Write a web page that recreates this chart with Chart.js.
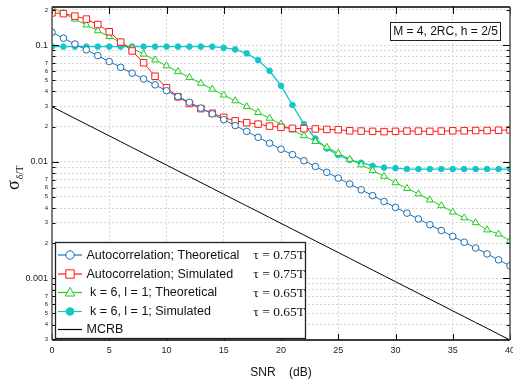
<!DOCTYPE html>
<html lang="en">
<head>
<meta charset="UTF-8">
<title>Timing error vs SNR</title>
<script src="https://cdn.jsdelivr.net/npm/chart.js"></script>
<style>
  html, body { margin: 0; padding: 0; background: #fff; }
</style>
</head>
<body>
<canvas id="snrChart" width="513" height="383"></canvas>
<script>
// SNR axis (dB)
const snr = [0,1,2,3,4,5,6,7,8,9,10,11,12,13,14,15,16,17,18,19,20,
             21,22,23,24,25,26,27,28,29,30,31,32,33,34,35,36,37,38,39,40];

// Autocorrelation, theoretical (tau = 0.75T)
const autoTheo = [0.1285,0.1145,0.1021,0.0910,0.0811,0.0723,0.0644,0.0574,0.0512,0.0456,
                  0.0406,0.0362,0.0323,0.0288,0.0257,0.0229,0.0204,0.0182,0.0162,0.0144,
                  0.0128,0.0115,0.0102,0.0091,0.00811,0.00723,0.00644,0.00574,0.00512,0.00456,
                  0.00406,0.00362,0.00323,0.00288,0.00257,0.00229,0.00204,0.00182,0.00162,0.00144,0.00128];
// Autocorrelation, simulated (tau = 0.75T)
const autoSim = [0.189,0.186,0.177,0.167,0.150,0.130,0.106,0.089,0.0705,0.054,
                 0.043,0.036,0.0315,0.0285,0.026,0.024,0.0224,0.0216,0.021,0.0202,
                 0.0197,0.0193,0.0192,0.0191,0.0189,0.0188,0.0184,0.0183,0.0182,0.0181,
                 0.0182,0.0183,0.0183,0.0182,0.0183,0.0184,0.0184,0.0185,0.0185,0.0186,0.0187];
// k = 6, l = 1, theoretical (tau = 0.65T)
const kTheo = [0.210,0.1872,0.1668,0.1487,0.1325,0.1181,0.1053,0.0938,0.0836,0.0745,
               0.0664,0.0592,0.0528,0.0470,0.0419,0.0373,0.0333,0.0297,0.0264,0.0236,
               0.0210,0.0187,0.0167,0.0149,0.0133,0.0118,0.0105,0.0094,0.0084,0.0075,
               0.0066,0.0059,0.0053,0.0047,0.0042,0.0037,0.0033,0.0030,0.0026,0.0024,0.0021];
// k = 6, l = 1, simulated (tau = 0.65T)
const kSim = [0.097,0.097,0.097,0.097,0.097,0.097,0.097,0.097,0.097,0.097,
              0.097,0.097,0.097,0.097,0.097,0.0948,0.0918,0.0849,0.0743,0.0602,
              0.0448,0.0306,0.021,0.0158,0.013,0.0114,0.01035,0.0098,0.0092,0.0089,
              0.0088,0.00865,0.00865,0.00865,0.00865,0.00865,0.00865,0.00865,0.00865,0.00865,0.00865];
// MCRB
const mcrb = [0.0296,0.02638,0.02351,0.02096,0.01868,0.01665,0.01484,0.01322,0.01179,0.0105,
              0.00936,0.00834,0.00744,0.00663,0.00591,0.00526,0.00469,0.00418,0.00373,0.00332,
              0.00296,0.002638,0.002351,0.002096,0.001868,0.001665,0.001484,0.001322,0.001179,0.00105,
              0.000936,0.000834,0.000744,0.000663,0.000591,0.000526,0.000469,0.000418,0.000373,0.000332,0.000296];

// ticks
const xTicks = [0,5,10,15,20,25,30,35,40];
const yTickValues = [0.0003,0.0004,0.0005,0.0006,0.0007,0.0008,0.0009,
                     0.001,0.002,0.003,0.004,0.005,0.006,0.007,0.008,0.009,
                     0.01,0.02,0.03,0.04,0.05,0.06,0.07,0.08,0.09,
                     0.1,0.2];
const yTickLabels = ['3','4','5','6','7','','',
                     '0.001','2','3','4','5','6','7','','',
                     '0.01','2','3','4','5','6','7','','',
                     '0.1','2'];
const yMajor = [0.001, 0.01, 0.1];

// legend text
const seriesNames = ['Autocorrelation; Theoretical','Autocorrelation; Simulated',
                     ' k = 6, l = 1; Theoretical',' k = 6, l = 1; Simulated','MCRB'];
const tauLabels = ['\u03c4 = 0.75T','\u03c4 = 0.75T','\u03c4 = 0.65T','\u03c4 = 0.65T',''];
const noteText = 'M = 4, 2RC, h = 2/5';

const BLUE = '#1a6db0', RED = '#ff1a1a', GREEN = '#1fcc1f', CYAN = '#14c6c8';
const SANS = '"Liberation Sans", Arial, sans-serif';
const SERIF = '"Liberation Serif", "Times New Roman", serif';

const styles = [
  {color: BLUE, point: 'circle', r: 3.3, fill: '#fff'},
  {color: RED, point: 'rect', r: 4.6, fill: '#fff'},
  {color: GREEN, point: 'triangle', r: 4, fill: '#fff'},
  {color: CYAN, point: 'circle', r: 2.8, fill: CYAN},
  {color: '#000', point: false, r: 0, fill: '#000'}
];
const seriesData = [autoTheo, autoSim, kTheo, kSim, mcrb];

const datasets = seriesData.map((vals, i) => ({
  label: seriesNames[i],
  data: snr.map((x, j) => ({x: x, y: vals[j]})),
  borderColor: styles[i].color,
  backgroundColor: styles[i].fill,
  borderWidth: i === 3 ? 1.3 : 1,
  pointStyle: styles[i].point,
  pointRadius: styles[i].r,
  pointBorderWidth: 1,
  pointBorderColor: styles[i].color,
  pointBackgroundColor: styles[i].fill,
  tension: 0
}));

function drawMarker(ctx, st, x, y) {
  if (!st.point) return;
  ctx.save();
  ctx.strokeStyle = st.color;
  ctx.fillStyle = st.fill;
  ctx.lineWidth = 1;
  ctx.beginPath();
  if (st.point === 'circle') {
    const r = st.fill !== '#fff' ? 3.8 : 4.2;
    ctx.arc(x, y, r, 0, Math.PI * 2);
  } else if (st.point === 'rect') {
    ctx.rect(x - 4.2, y - 4.2, 8.4, 8.4);
  } else if (st.point === 'triangle') {
    ctx.moveTo(x, y - 5.2);
    ctx.lineTo(x + 4.8, y + 3.5);
    ctx.lineTo(x - 4.8, y + 3.5);
    ctx.closePath();
  }
  ctx.fill();
  ctx.stroke();
  ctx.restore();
}

const decorPlugin = {
  id: 'decor',
  afterDraw(chart) {
    const ctx = chart.ctx;
    const a = chart.chartArea;
    const xs = chart.scales.x, ys = chart.scales.y;
    ctx.save();

    // x tick labels
    ctx.fillStyle = '#222';
    ctx.font = '9px ' + SANS;
    ctx.textAlign = 'center';
    ctx.textBaseline = 'middle';
    xTicks.forEach(v => {
      ctx.fillText(String(v), xs.getPixelForValue(v), a.bottom + 11);
    });

    // inner tick marks
    ctx.strokeStyle = '#000';
    ctx.lineWidth = 1;
    ctx.beginPath();
    xTicks.forEach(v => {
      const px = Math.round(xs.getPixelForValue(v)) + 0.5;
      ctx.moveTo(px, a.top); ctx.lineTo(px, a.top + 7);
      ctx.moveTo(px, a.bottom); ctx.lineTo(px, a.bottom - 6);
    });
    yTickValues.forEach(v => {
      const py = Math.round(ys.getPixelForValue(v)) + 0.5;
      const len = yMajor.includes(v) ? 7 : 3.5;
      ctx.moveTo(a.left, py); ctx.lineTo(a.left + len, py);
      ctx.moveTo(a.right, py); ctx.lineTo(a.right - len, py);
    });
    ctx.stroke();

    // plot frame
    ctx.lineWidth = 1.3;
    ctx.strokeStyle = '#000';
    ctx.beginPath();
    ctx.moveTo(a.left, a.top); ctx.lineTo(a.right, a.top);
    ctx.moveTo(a.left, a.bottom); ctx.lineTo(a.right, a.bottom);
    ctx.stroke();
    ctx.strokeStyle = '#555';
    ctx.lineWidth = 1.5;
    ctx.beginPath();
    ctx.moveTo(a.left, a.top); ctx.lineTo(a.left, a.bottom);
    ctx.moveTo(a.right, a.top); ctx.lineTo(a.right, a.bottom);
    ctx.stroke();

    // legend
    const lx = 55.5, ly = 242.5, lw = 250, lh = 96;
    ctx.fillStyle = '#fff';
    ctx.fillRect(lx, ly, lw, lh);
    ctx.strokeStyle = '#222';
    ctx.lineWidth = 1.3;
    ctx.strokeRect(lx, ly, lw, lh);
    const rowY = [255, 274, 292.5, 311.5, 329.5];
    seriesNames.forEach((name, i) => {
      const y = rowY[i];
      ctx.strokeStyle = styles[i].color;
      ctx.lineWidth = 1.2;
      ctx.beginPath();
      ctx.moveTo(58, y); ctx.lineTo(82, y);
      ctx.stroke();
      drawMarker(ctx, styles[i], 70, y);
      ctx.fillStyle = '#111';
      ctx.font = '12.5px ' + SANS;
      ctx.textAlign = 'left';
      ctx.textBaseline = 'middle';
      ctx.fillText(name, 86.5, y + 0.5);
      if (tauLabels[i]) {
        ctx.font = '13.5px ' + SERIF;
        ctx.textAlign = 'right';
        ctx.fillText(tauLabels[i], 305, y + 0.5);
      }
    });

    // parameter note
    ctx.fillStyle = '#fff';
    ctx.fillRect(390.5, 22.5, 110, 18);
    ctx.strokeStyle = '#222';
    ctx.lineWidth = 1;
    ctx.strokeRect(390.5, 22.5, 110, 18);
    ctx.fillStyle = '#111';
    ctx.font = '12px ' + SANS;
    ctx.textAlign = 'center';
    ctx.textBaseline = 'middle';
    ctx.fillText(noteText, 445.5, 32);

    // y axis title: sigma_{delta/T}
    ctx.translate(14, 190);
    ctx.rotate(-Math.PI / 2);
    ctx.fillStyle = '#111';
    ctx.textAlign = 'left';
    ctx.textBaseline = 'middle';
    ctx.font = '18px ' + SERIF;
    ctx.fillText('\u03c3', 0, 0);
    const sw = ctx.measureText('\u03c3').width;
    ctx.font = '10px ' + SERIF;
    ctx.fillText('\u03b4/T', sw + 1, 6);
    ctx.restore();
  }
};

new Chart(document.getElementById('snrChart'), {
  type: 'line',
  data: { datasets: datasets },
  options: {
    responsive: false,
    animation: false,
    layout: { autoPadding: false, padding: { left: 0, right: 3, top: 7, bottom: 0 } },
    plugins: { legend: { display: false }, tooltip: { enabled: false } },
    scales: {
      x: {
        type: 'linear',
        min: 0, max: 40,
        afterBuildTicks: s => { s.ticks = xTicks.map(v => ({value: v})); },
        afterFit: s => { s.height = 43; s.paddingLeft = 0; s.paddingRight = 0; },
        grid: { color: '#d6d6d6', lineWidth: 1, drawTicks: false },
        border: { display: false, dash: [2, 2] },
        ticks: { display: false },
        title: { display: true, text: 'SNR    (dB)', color: '#111',
                 font: { family: SANS, size: 12 }, padding: { top: 9, bottom: 3 } }
      },
      y: {
        type: 'logarithmic',
        min: 0.000296, max: 0.212,
        afterBuildTicks: s => { s.ticks = yTickValues.map(v => ({value: v})); },
        afterFit: s => { s.width = 52; s.paddingTop = 0; s.paddingBottom = 0; },
        grid: { color: '#d6d6d6', lineWidth: 1, drawTicks: false },
        border: { display: false, dash: [2, 2] },
        ticks: {
          autoSkip: false, padding: 4, color: '#222',
          callback: (v, i) => yTickLabels[i],
          font: c => (c.tick && yMajor.includes(c.tick.value))
            ? { family: SANS, size: 9 } : { family: SANS, size: 6 }
        }
      }
    }
  },
  plugins: [decorPlugin]
});
</script>
</body>
</html>
